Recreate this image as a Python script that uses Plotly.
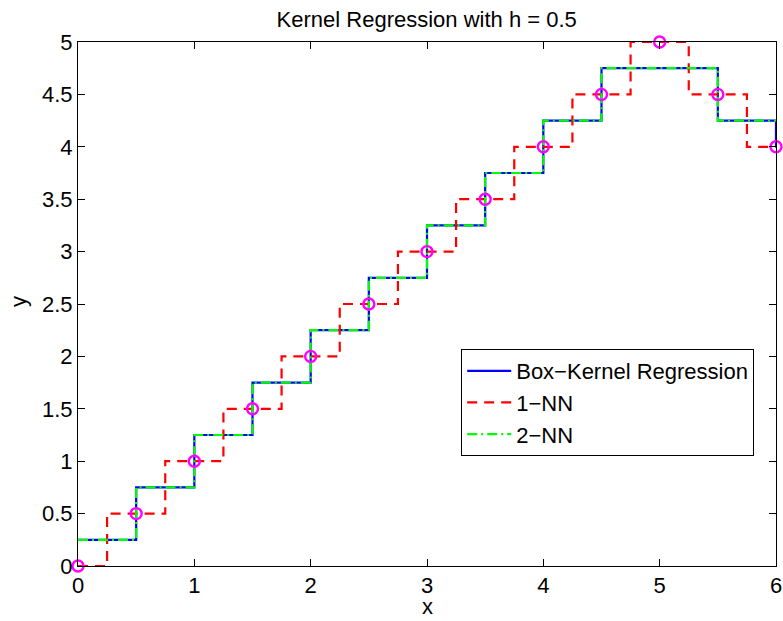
import plotly.graph_objects as go

# Data points
x_data = [0, 0.5, 1, 1.5, 2, 2.5, 3, 3.5, 4, 4.5, 5, 5.5, 6]
y_data = [0, 0.5, 1, 1.5, 2, 2.5, 3, 3.5, 4, 4.5, 5, 4.5, 4]

# Box-kernel regression (h = 0.5): step edges and levels
box_edges = [0, 0.5, 1, 1.5, 2, 2.5, 3, 3.5, 4, 4.5, 5.5, 6, 6]
box_levels = [0.25, 0.75, 1.25, 1.75, 2.25, 2.75, 3.25, 3.75, 4.25, 4.75, 4.25, 4.25, 4]

# 1-NN regression
nn1_edges = [0, 0.25, 0.75, 1.25, 1.75, 2.25, 2.75, 3.25, 3.75, 4.25, 4.75, 5.25, 5.75, 6]
nn1_levels = [0, 0.5, 1, 1.5, 2, 2.5, 3, 3.5, 4, 4.5, 5, 4.5, 4, 4]

# 2-NN regression
nn2_edges = [0, 0.5, 1, 1.5, 2, 2.5, 3, 3.5, 4, 4.5, 5.5, 6]
nn2_levels = [0.25, 0.75, 1.25, 1.75, 2.25, 2.75, 3.25, 3.75, 4.25, 4.75, 4.25, 4.25]

x_ticks = [0, 1, 2, 3, 4, 5, 6]
y_ticks = [0, 0.5, 1, 1.5, 2, 2.5, 3, 3.5, 4, 4.5, 5]

FONT = "Liberation Sans, Arial, Helvetica, sans-serif"
FS = 22

fig = go.Figure()
fig.add_trace(go.Scatter(x=box_edges, y=box_levels, mode="lines", line_shape="hv",
                         line=dict(color="#0000ff", width=2.2), name="Box\u2212Kernel Regression"))
fig.add_trace(go.Scatter(x=nn1_edges, y=nn1_levels, mode="lines", line_shape="hv",
                         line=dict(color="#ff0000", width=2.2, dash="10px,7px"), name="1\u2212NN"))
fig.add_trace(go.Scatter(x=nn2_edges, y=nn2_levels, mode="lines", line_shape="hv",
                         line=dict(color="#00ff00", width=2.2, dash="10px,4px,2px,4px"), name="2\u2212NN"))
fig.add_trace(go.Scatter(x=x_data, y=y_data, mode="markers", showlegend=False,
                         marker=dict(symbol="circle-open", size=11, color="#ff00ff",
                                     line=dict(width=2.4, color="#ff00ff")),
                         cliponaxis=False))

axis_common = dict(showgrid=False, zeroline=False, showline=True, linecolor="black", linewidth=1,
                   mirror="ticks", ticks="inside", ticklen=7, tickcolor="black", automargin=False,
                   tickfont=dict(size=FS, color="black", family=FONT))

fig.update_layout(
    width=783, height=621,
    paper_bgcolor="white", plot_bgcolor="white",
    margin=dict(l=78, r=7, t=42, b=55),
    font=dict(family=FONT, color="black"),
    title=dict(text="Kernel Regression with h = 0.5", x=0.545, xanchor="center",
               y=1 - 19 / 621, yanchor="middle", font=dict(size=FS, family=FONT, color="black")),
    xaxis=dict(range=[0, 6], tickvals=x_ticks, ticktext=[str(v) for v in x_ticks], **axis_common),
    yaxis=dict(range=[0, 5], tickvals=y_ticks, ticktext=[f"{v:g}" for v in y_ticks], **axis_common),
    legend=dict(x=0.549, y=0.414, xanchor="left", yanchor="top", bgcolor="white",
                bordercolor="black", borderwidth=1, font=dict(size=FS, family=FONT, color="black"),
                tracegroupgap=0, itemwidth=44),
    annotations=[
        dict(text="x", xref="paper", yref="paper", x=0.5, y=-(621 - 566) / 524,
             xanchor="center", yanchor="bottom", showarrow=False,
             font=dict(size=FS, family=FONT, color="black")),
        dict(text="y", xref="paper", yref="paper", x=-(78 - 18) / 698, y=(566 - 302) / 524,
             xanchor="center", yanchor="middle", showarrow=False, textangle=-90,
             font=dict(size=FS, family=FONT, color="black")),
    ],
)

fig.write_html("out.html", config={"displayModeBar": False},
               post_script="document.body.style.margin='0';")
